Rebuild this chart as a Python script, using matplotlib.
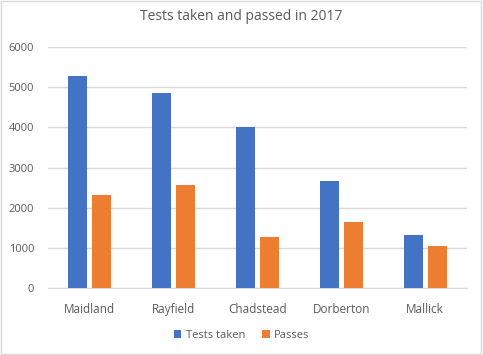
import numpy as np
import matplotlib
matplotlib.use('Agg')
import matplotlib.pyplot as plt
from matplotlib.patches import Rectangle

towns = ['Maidland', 'Rayfield', 'Chadstead', 'Dorberton', 'Mallick']
tests_taken = [5280, 4860, 4010, 2660, 1320]
passes = [2320, 2560, 1270, 1640, 1050]
yticks = [0, 1000, 2000, 3000, 4000, 5000, 6000]

plt.rcParams['font.family'] = ['Open Sans', 'DejaVu Sans']

fig = plt.figure(figsize=(4.83, 3.55), dpi=100)
ax = fig.add_axes([48/483, 1-288/355, (467-48)/483, (288-47)/355])

x = np.arange(len(towns))
w = 0.227
ax.bar(x - 0.143, tests_taken, w, color='#4472C4', label='Tests taken', zorder=3)
ax.bar(x + 0.143, passes, w, color='#ED7D31', label='Passes', zorder=3)

ax.set_xlim(-0.5, len(towns) - 0.5)
ax.set_ylim(0, 6000)
ax.set_yticks(yticks)
ax.set_yticklabels([str(v) for v in yticks], fontsize=8, color='#595959')
ax.set_xticks(x)
ax.set_xticklabels(towns, fontsize=8.5, color='#595959')
ax.tick_params(axis='x', length=0, pad=11)
ax.tick_params(axis='y', length=0, pad=10)
ax.grid(axis='y', color='#D9D9D9', linewidth=1, zorder=0)
for s in ['top', 'right', 'left']:
    ax.spines[s].set_visible(False)
ax.spines['bottom'].set_color('#D9D9D9')

fig.text(0.5, 1-17/355, 'Tests taken and passed in 2017', ha='center', va='center',
         fontsize=10, color='#595959')

fig.legend(loc='center', bbox_to_anchor=(0.5, 1-335/355), ncol=2, frameon=False,
           fontsize=8, handlelength=0.7, handleheight=0.7, columnspacing=1.5,
           handletextpad=0.4, labelcolor='#595959')

fig.patches.append(Rectangle((0.002, 0.003), 0.994, 0.994, transform=fig.transFigure,
                             fill=False, edgecolor='#D9D9D9', linewidth=1))

fig.savefig('out.png', dpi=100)
